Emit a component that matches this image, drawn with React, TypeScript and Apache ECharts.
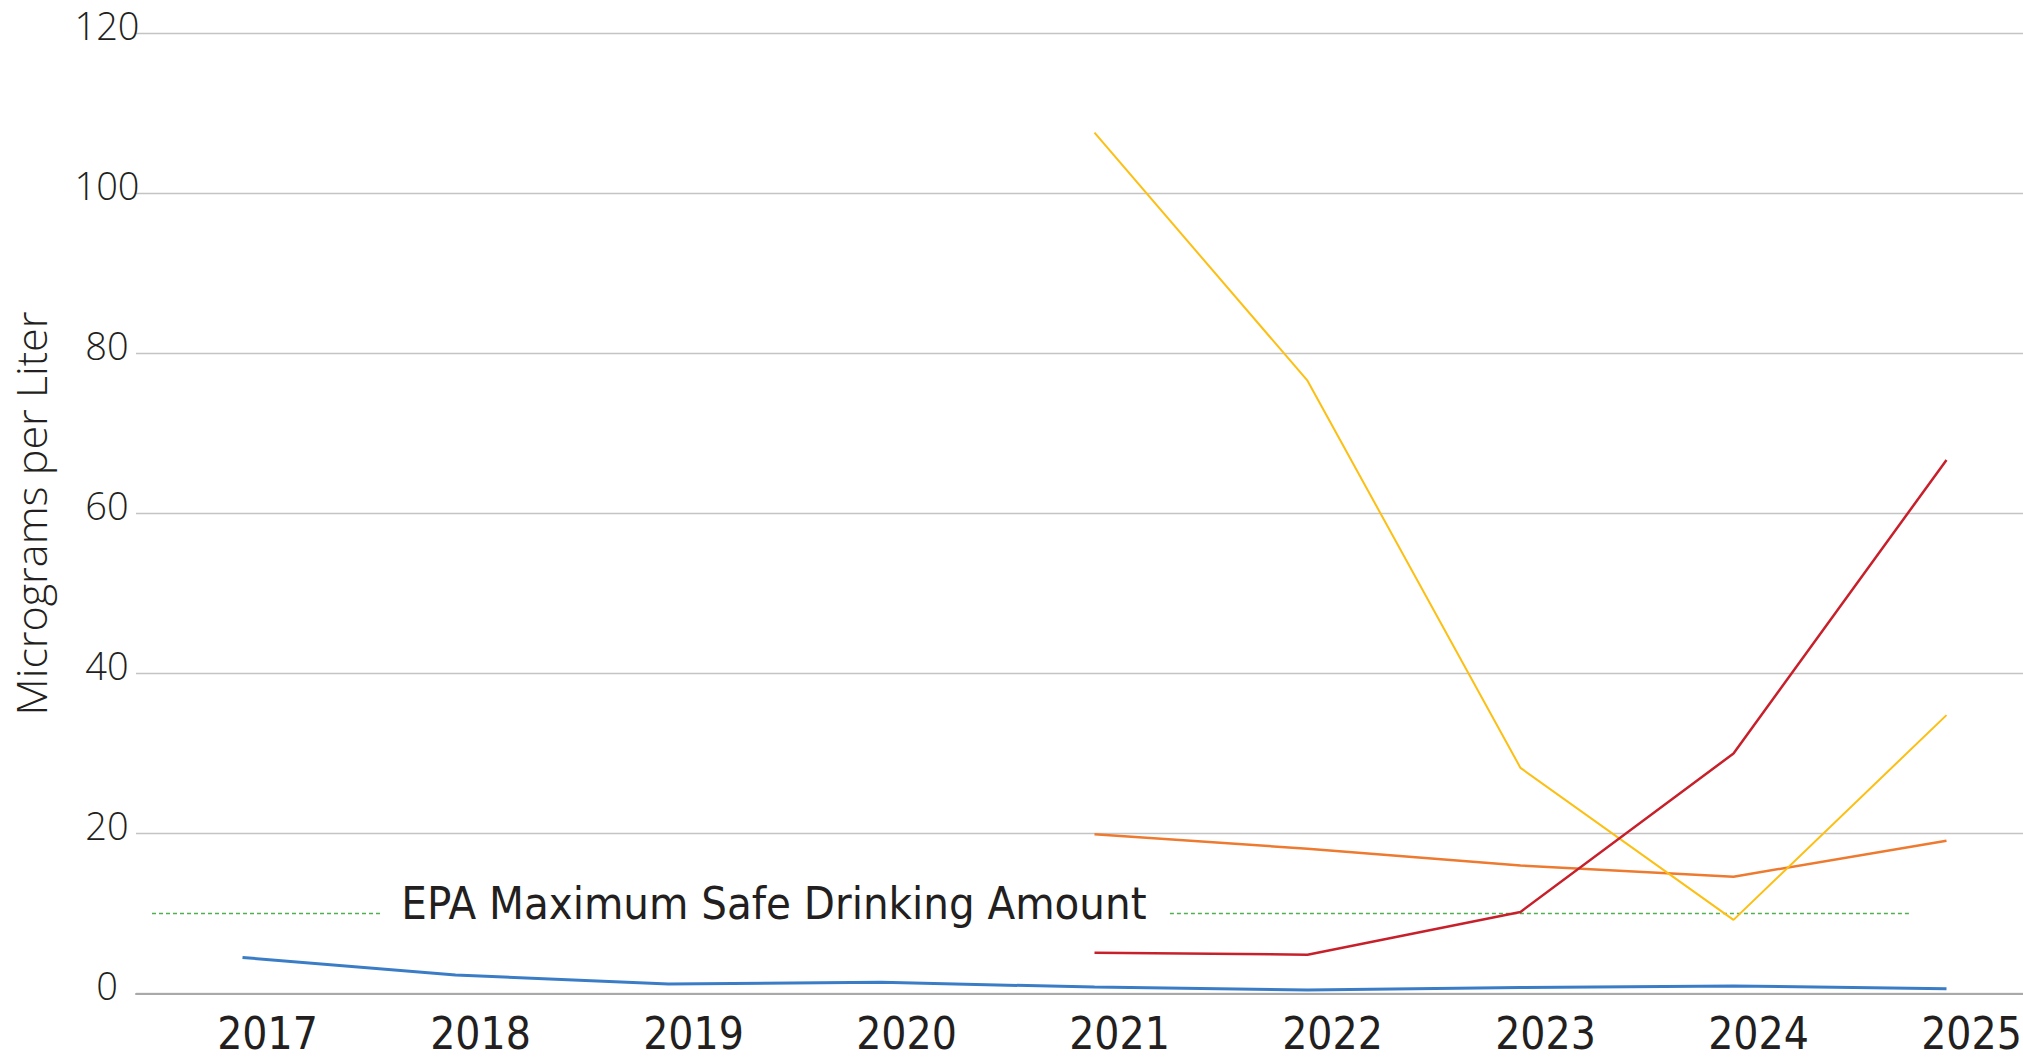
import React, { useEffect, useRef } from "react";
import * as echarts from "echarts";

const years = ["2017", "2018", "2019", "2020", "2021", "2022", "2023", "2024", "2025"];
const blueSeries = [4.5, 2.3, 1.2, 1.4, 0.8, 0.45, 0.75, 0.95, 0.6];
const redSeries = [null, null, null, null, 5.1, 4.85, 10.2, 30.0, 66.7];
const orangeSeries = [null, null, null, null, 19.9, 18.1, 16.0, 14.6, 19.1];
const yellowSeries = [null, null, null, null, 107.6, 76.6, 28.2, 9.2, 34.8];
const epaLimit = 10;
const epaLabel = "EPA Maximum Safe Drinking Amount";
const yTicks = [0, 20, 40, 60, 80, 100, 120];
const axisTitle = "Micrograms per Liter";

const TEXT = "#231f20";
const NARROW = "'Liberation Sans Narrow', 'DejaVu Sans Condensed', 'Liberation Sans', sans-serif";
const LIGHT = "'Open Sans', 'Liberation Sans', sans-serif";

export default function App() {
  const ref = useRef<HTMLDivElement>(null);
  useEffect(() => {
    if (!ref.current) return;
    const chart = echarts.init(ref.current, null, { renderer: "svg" });
    const lineSeries = (name: string, data: (number | null)[], color: string, width: number) => ({
      name,
      type: "line",
      data,
      symbol: "none",
      xAxisIndex: 0,
      yAxisIndex: 0,
      lineStyle: { color, width },
      itemStyle: { color },
      z: 3,
    });
    // EPA segments: layout extents along hidden value axis (category index units)
    const epaLeft: [number, number] = [-0.425, 0.65];
    const epaRight: [number, number] = [4.354, 7.824];
    chart.setOption({
      animation: false,
      backgroundColor: "#ffffff",
      grid: {
        left: 136,
        right: -30,
        top: 33.5,
        bottom: 64.5,
        containLabel: false,
        outerBoundsMode: "none",
      },
      xAxis: [
        {
          type: "category",
          data: years,
          boundaryGap: true,
          axisLine: { show: true, lineStyle: { color: "#a9a9a9", width: 2 } },
          axisTick: { show: false },
          splitLine: { show: false },
          axisLabel: {
            color: TEXT,
            fontFamily: NARROW,
            fontSize: 44,
            lineHeight: 40,
            margin: 20,
            align: "center",
            padding: [0, 0, 0, 50],
          },
        },
        {
          type: "value",
          min: -0.5,
          max: 8.5,
          show: false,
        },
      ],
      yAxis: {
        type: "value",
        min: yTicks[0],
        max: yTicks[yTicks.length - 1],
        interval: 20,
        name: axisTitle,
        nameLocation: "middle",
        nameGap: 86,
        nameTextStyle: { color: TEXT, fontFamily: LIGHT, fontWeight: 300, fontSize: 43, lineHeight: 40 },
        axisLine: { show: false },
        axisTick: { show: false },
        splitLine: { show: true, lineStyle: { color: "#c4c4c4", width: 1.3 } },
        axisLabel: {
          color: TEXT,
          fontFamily: LIGHT,
          fontWeight: 300,
          fontSize: 38,
          lineHeight: 18,
          margin: 29,
          align: "center",
          verticalAlign: "bottom",
        },
      },
      series: [
        {
          name: "EPA",
          type: "line",
          xAxisIndex: 1,
          yAxisIndex: 0,
          symbol: "none",
          connectNulls: false,
          data: [
            [epaLeft[0], epaLimit],
            [epaLeft[1], epaLimit],
            [null, null],
            [epaRight[0], epaLimit],
            [epaRight[1], epaLimit],
          ],
          lineStyle: { color: "#4fb04f", width: 1.5, type: [4, 3] },
          z: 2,
          markPoint: {
            symbol: "circle",
            symbolSize: 1,
            itemStyle: { color: "rgba(0,0,0,0)" },
            label: {
              show: true,
              position: "inside",
              offset: [0, -10],
              formatter: epaLabel,
              color: TEXT,
              fontFamily: NARROW,
              fontSize: 45,
            },
            data: [{ coord: [2.495, epaLimit] }],
          },
        },
        lineSeries("Blue", blueSeries, "#3a7dc6", 3),
        lineSeries("Orange", orangeSeries, "#ee7a30", 2.5),
        lineSeries("Yellow", yellowSeries, "#fcbf12", 2),
        lineSeries("Red", redSeries, "#c8202b", 2.5),
      ],
    });
    return () => chart.dispose();
  }, []);
  return (
    <div
      ref={ref}
      style={{ position: "absolute", left: 0, top: 0, width: 2023, height: 1058 }}
    />
  );
}
